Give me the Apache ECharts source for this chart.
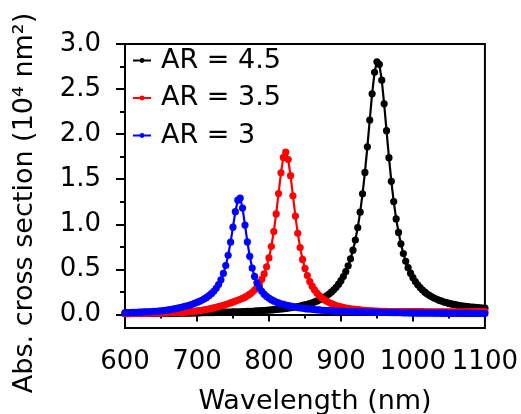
<!DOCTYPE html>
<html>
<head>
<meta charset="utf-8">
<script src="https://cdn.jsdelivr.net/npm/echarts@6/dist/echarts.min.js"></script>
<style>
  html, body { margin: 0; padding: 0; background: #fff; }
  #chart { width: 521px; height: 414px; }
</style>
</head>
<body>
<div id="chart"></div>
<script>
// Sampled wavelengths (nm)
const wavelengths = [
  600,603.3,606.7,610,613.3,616.7,620,623.3,626.7,630,633.3,636.7,640,643.3,646.7,650,653.3,656.7,660,663.3,666.7,670,673.3,676.7,680,683.3,686.7,690,693.3,696.7,
  700,703.3,706.7,710,713.3,716.7,720,723.3,726.7,730,733.3,736.7,740,743.3,746.7,750,753.3,756.7,760,763.3,766.7,770,773.3,776.7,780,783.3,786.7,790,793.3,796.7,
  800,803.3,806.7,810,813.3,816.7,820,823.3,826.7,830,833.3,836.7,840,843.3,846.7,850,853.3,856.7,860,863.3,866.7,870,873.3,876.7,880,883.3,886.7,890,893.3,896.7,
  900,903.3,906.7,910,913.3,916.7,920,923.3,926.7,930,933.3,936.7,940,943.3,946.7,950,953.3,956.7,960,963.3,966.7,970,973.3,976.7,980,983.3,986.7,990,993.3,996.7,
  1000,1003.3,1006.7,1010,1013.3,1016.7,1020,1023.3,1026.7,1030,1033.3,1036.7,1040,1043.3,1046.7,1050,1053.3,1056.7,1060,1063.3,1066.7,1070,1073.3,1076.7,1080,1083.3,1086.7,1090,1093.3,1096.7,
  1100
];

// Absorption cross section (10^4 nm^2), aspect ratio 4.5
const ar45 = [
  0.009,0.009,0.009,0.010,0.010,0.010,0.010,0.010,0.011,0.011,0.011,0.011,0.012,0.012,0.012,0.012,0.013,0.013,0.013,0.013,0.014,0.014,0.014,0.015,0.015,0.015,0.016,0.016,0.017,0.017,
  0.018,0.018,0.019,0.019,0.020,0.020,0.021,0.021,0.022,0.023,0.023,0.024,0.025,0.026,0.027,0.028,0.028,0.029,0.030,0.031,0.032,0.034,0.035,0.036,0.038,0.039,0.041,0.043,0.044,0.046,
  0.048,0.051,0.053,0.055,0.058,0.061,0.064,0.067,0.071,0.075,0.079,0.083,0.088,0.094,0.100,0.106,0.113,0.121,0.130,0.139,0.150,0.162,0.175,0.190,0.207,0.226,0.248,0.273,0.302,0.336,
  0.375,0.420,0.476,0.540,0.617,0.713,0.826,0.963,1.135,1.338,1.576,1.860,2.157,2.448,2.686,2.803,2.773,2.599,2.337,2.039,1.739,1.477,1.253,1.060,0.910,0.784,0.676,0.590,0.519,0.458,
  0.408,0.366,0.329,0.298,0.271,0.247,0.227,0.210,0.193,0.180,0.168,0.156,0.147,0.138,0.131,0.123,0.117,0.111,0.106,0.101,0.097,0.093,0.089,0.086,0.083,0.081,0.078,0.076,0.073,0.072,
  0.070
];

// Aspect ratio 3.5
const ar35 = [
  0.010,0.010,0.010,0.011,0.011,0.011,0.012,0.012,0.013,0.013,0.014,0.014,0.015,0.015,0.016,0.016,0.017,0.018,0.018,0.019,0.020,0.021,0.022,0.023,0.024,0.026,0.028,0.030,0.033,0.035,
  0.039,0.043,0.047,0.051,0.056,0.061,0.067,0.073,0.080,0.087,0.094,0.102,0.110,0.119,0.128,0.138,0.147,0.157,0.168,0.179,0.192,0.207,0.225,0.246,0.271,0.302,0.341,0.390,0.450,0.528,
  0.627,0.754,0.919,1.115,1.341,1.571,1.742,1.800,1.719,1.539,1.317,1.091,0.900,0.742,0.611,0.511,0.431,0.365,0.314,0.272,0.237,0.208,0.185,0.164,0.147,0.133,0.120,0.109,0.099,0.091,
  0.084,0.078,0.072,0.067,0.063,0.059,0.056,0.053,0.050,0.047,0.045,0.043,0.041,0.040,0.038,0.037,0.036,0.035,0.034,0.034,0.033,0.033,0.033,0.032,0.032,0.032,0.031,0.031,0.031,0.031,
  0.031,0.031,0.031,0.031,0.031,0.030,0.030,0.030,0.030,0.030,0.030,0.030,0.029,0.029,0.030,0.030,0.030,0.030,0.030,0.030,0.030,0.030,0.030,0.030,0.031,0.031,0.031,0.031,0.031,0.031,
  0.032
];

// Aspect ratio 3
const ar3 = [
  0.020,0.021,0.021,0.023,0.024,0.024,0.026,0.027,0.029,0.029,0.030,0.032,0.034,0.036,0.038,0.041,0.043,0.047,0.051,0.055,0.060,0.065,0.070,0.076,0.083,0.090,0.097,0.105,0.113,0.124,
  0.134,0.145,0.158,0.172,0.189,0.208,0.231,0.257,0.291,0.332,0.385,0.455,0.543,0.656,0.802,0.968,1.140,1.268,1.290,1.180,0.992,0.805,0.646,0.515,0.422,0.351,0.296,0.257,0.225,0.200,
  0.181,0.164,0.150,0.138,0.128,0.119,0.111,0.105,0.098,0.092,0.087,0.082,0.077,0.073,0.070,0.065,0.062,0.060,0.057,0.054,0.052,0.050,0.047,0.045,0.043,0.042,0.040,0.039,0.037,0.036,
  0.035,0.034,0.033,0.032,0.031,0.031,0.030,0.029,0.029,0.028,0.027,0.027,0.026,0.025,0.025,0.024,0.024,0.023,0.022,0.022,0.021,0.021,0.020,0.020,0.019,0.019,0.018,0.018,0.018,0.017,
  0.016,0.016,0.016,0.016,0.016,0.015,0.015,0.015,0.015,0.014,0.014,0.014,0.014,0.014,0.014,0.013,0.013,0.013,0.013,0.013,0.013,0.012,0.012,0.012,0.012,0.012,0.012,0.011,0.011,0.011,
  0.011
];

const seriesNames = ['AR = 4.5', 'AR = 3.5', 'AR = 3'];
const seriesColors = ['#000000', '#ff0000', '#0000ff'];
const seriesValues = [ar45, ar35, ar3];

const yMajorTicks = [0, 0.5, 1.0, 1.5, 2.0, 2.5, 3.0];
const yMinorTicks = [0.25, 0.75, 1.25, 1.75, 2.25, 2.75];

const xTitle = 'Wavelength (nm)';
const yTitle = 'Abs. cross section (10\u2074 nm\u00B2)';

const FONT = 'DejaVu Sans';

const chart = echarts.init(document.getElementById('chart'), null, { renderer: 'canvas' });

const series = seriesValues.map((vals, k) => ({
  name: seriesNames[k],
  type: 'line',
  data: wavelengths.map((w, i) => [w, vals[i]]),
  symbol: 'circle',
  symbolSize: 7.2,
  showAllSymbol: true,
  color: seriesColors[k],
  itemStyle: { color: seriesColors[k] },
  lineStyle: { color: seriesColors[k], width: 2.2 },
  z: 2 + k
}));

chart.setOption({
  animation: false,
  backgroundColor: '#ffffff',
  grid: {
    left: 125, top: 44, width: 362, height: 284,
    show: true, borderColor: '#000', borderWidth: 2, backgroundColor: 'transparent'
  },
  legend: {
    orient: 'vertical',
    left: 127, top: 42,
    itemWidth: 18, itemHeight: 6, itemGap: 10.5,
    data: seriesNames,
    textStyle: { fontFamily: FONT, fontSize: 27, color: '#000', padding: [0, 0, 0, 5] }
  },
  xAxis: {
    type: 'value',
    min: 600, max: 1100, interval: 100,
    axisLine: { show: true, lineStyle: { color: '#000', width: 2 } },
    axisTick: { show: true, inside: false, length: 7, lineStyle: { color: '#000', width: 2 } },
    minorTick: { show: true, splitNumber: 2, length: 4, lineStyle: { color: '#000', width: 2 } },
    axisLabel: { fontFamily: FONT, fontSize: 26, color: '#000', margin: 21, formatter: v => String(v) },
    splitLine: { show: false }
  },
  yAxis: [
    {
      type: 'value',
      min: -0.15, max: 3.0,
      axisLine: { show: true, lineStyle: { color: '#000', width: 2 } },
      axisTick: { show: true, inside: false, length: 9, customValues: yMajorTicks, lineStyle: { color: '#000', width: 2 } },
      axisLabel: {
        fontFamily: FONT, fontSize: 26, color: '#000', margin: 24,
        customValues: yMajorTicks,
        formatter: v => v.toFixed(1)
      },
      splitLine: { show: false }
    },
    {
      type: 'value',
      min: -0.15, max: 3.0,
      position: 'left', offset: 0,
      axisLine: { show: false },
      axisTick: { show: true, inside: false, length: 5, customValues: yMinorTicks, lineStyle: { color: '#000', width: 2 } },
      axisLabel: { show: false },
      splitLine: { show: false }
    }
  ],
  graphic: [
    {
      type: 'text', x: 315, y: 402,
      style: { text: xTitle, fontFamily: FONT, fontSize: 27, fill: '#000', align: 'center', verticalAlign: 'middle' }
    },
    {
      type: 'text', x: 25, y: 203, rotation: Math.PI / 2,
      style: { text: yTitle, fontFamily: FONT, fontSize: 27, fill: '#000', align: 'center', verticalAlign: 'middle' }
    }
  ],
  series: series
});
</script>
</body>
</html>
